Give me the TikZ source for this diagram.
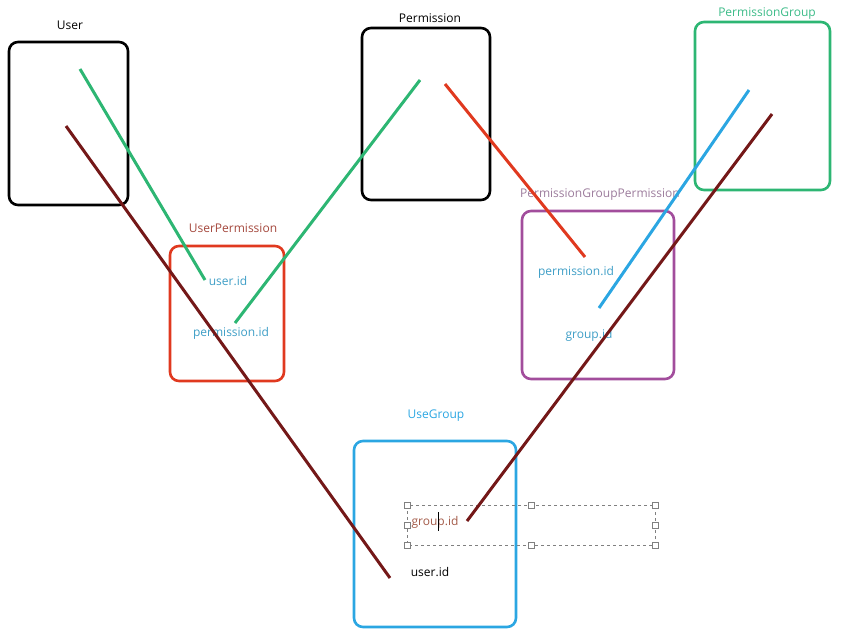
\documentclass[tikz,border=0pt]{standalone}
\usepackage{fontspec}
\setmainfont{Open Sans}
\usetikzlibrary{calc}

\definecolor{linkgreen}{HTML}{2DB673}
\definecolor{linkred}{HTML}{E0391F}
\definecolor{linkblue}{HTML}{2BA6E2}
\definecolor{linkdark}{HTML}{741818}
\definecolor{boxpurple}{HTML}{A24D9C}
\definecolor{fieldblue}{HTML}{3E9EC6}
\definecolor{titlered}{HTML}{A4473C}
\definecolor{titlepurple}{HTML}{9C7C9C}
\definecolor{titlegreen}{HTML}{3CBB88}
\definecolor{groupbrown}{HTML}{A35A48}

\tikzset{
  tbl/.style={draw, rounded corners=9pt, line width=2.6pt, inner sep=0pt},
  ttl/.style={font=\fontsize{12}{14}\selectfont, inner sep=0pt},
  fld/.style={font=\fontsize{12}{14}\selectfont, inner sep=0pt, text=fieldblue},
  lnk/.style={line width=3pt},
  hdl/.style={draw=gray, fill=white, line width=0.6pt, minimum size=6pt, inner sep=0pt}
}

\begin{document}
\begin{tikzpicture}[x=1pt, y=-1pt]
  \useasboundingbox (0,0) rectangle (842,635);

  % tables
  \node[tbl, draw=black, minimum width=119pt, minimum height=163pt] (User) at (68.5,123.5) {};
  \node[tbl, draw=black, minimum width=128pt, minimum height=172pt] (Perm) at (426,114) {};
  \node[tbl, draw=linkgreen, minimum width=135pt, minimum height=168pt] (PGroup) at (762.5,106) {};
  \node[tbl, draw=linkred, minimum width=114pt, minimum height=135pt] (UPerm) at (227,313.5) {};
  \node[tbl, draw=boxpurple, minimum width=152pt, minimum height=168pt] (PGPerm) at (598,295) {};
  \node[tbl, draw=linkblue, minimum width=162pt, minimum height=186pt] (UGroup) at (435,534) {};

  % titles
  \node[ttl] (UserT) at (70,25) {User};
  \node[ttl] (PermT) at (430,18) {Permission};
  \node[ttl, text=titlegreen] (PGroupT) at (767,14) {PermissionGroup};
  \node[ttl, text=titlered] (UPermT) at (233,228) {UserPermission};
  \node[ttl, text=titlepurple] (PGPermT) at (600,195) {PermissionGroupPermission};
  \node[ttl, text=linkblue] (UGroupT) at (436,416) {UseGroup};

  % fields
  \node[fld] (UPuser) at (228,281) {user.id};
  \node[fld] (UPperm) at (231,333) {permission.id};
  \node[fld] (PGPperm) at (576,272) {permission.id};
  \node[fld] (PGPgroup) at (589,335) {group.id};
  \node[fld, text=groupbrown] (UGgroup) at (435,522) {group.id};
  \node[fld, text=black] (UGuser) at (430,572) {user.id};

  % selection frame
  \coordinate (S1) at (407,505);
  \coordinate (S2) at (655,545);
  \draw[gray, dashed, line width=0.6pt] (S1) rectangle (S2);
  \foreach \px/\py in {407/505, 531/505, 655/505, 407/525, 655/525, 407/545, 531/545, 655/545}
    \node[hdl] at (\px,\py) {};
  \coordinate (Cur1) at (438,512);
  \coordinate (Cur2) at (438,531);
  \draw[black, line width=1pt] (Cur1) -- (Cur2);

  % link end points
  \coordinate (A1) at (80,69);
  \coordinate (A2) at (205,280);
  \coordinate (B1) at (420,80);
  \coordinate (B2) at (235,323);
  \coordinate (C1) at (445,84);
  \coordinate (C2) at (585,257);
  \coordinate (D1) at (749,90);
  \coordinate (D2) at (599,308);
  \coordinate (E1) at (66,126);
  \coordinate (E2) at (390,578);
  \coordinate (F1) at (772,114);
  \coordinate (F2) at (467,521);

  % links
  \draw[lnk, linkgreen] (A1) -- (A2);
  \draw[lnk, linkgreen] (B1) -- (B2);
  \draw[lnk, linkred] (C1) -- (C2);
  \draw[lnk, linkblue] (D1) -- (D2);
  \draw[lnk, linkdark] (E1) -- (E2);
  \draw[lnk, linkdark] (F1) -- (F2);
\end{tikzpicture}
\end{document}
